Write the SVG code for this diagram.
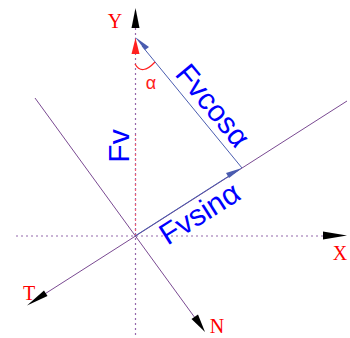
<svg xmlns="http://www.w3.org/2000/svg" width="350" height="338" viewBox="0 0 350 338">
<style>
.axis{stroke:#9468ac;stroke-width:1.2;stroke-dasharray:2,3;fill:none}
.line{stroke:#7a4a92;stroke-width:1;fill:none}
.vec{stroke:#4a5cb0;stroke-width:1;fill:none}
.lbl{font-family:"Liberation Serif",serif;font-size:20px;fill:#ff0000}
.blue{font-family:"Liberation Sans",Arial,sans-serif;font-size:30px;fill:#0000ff}
.head{fill:#000}
</style>
<rect width="350" height="338" fill="#fff"/>
<g id="connectors">
  <line class="axis" x1="16" y1="236" x2="324" y2="236"/>
  <line class="axis" x1="135.5" y1="28" x2="135.5" y2="338"/>
  <line x1="135.5" y1="236" x2="135.5" y2="135" stroke="#f06070" stroke-width="1.2" stroke-dasharray="2,3"/>
  <line class="line" x1="347" y1="101" x2="40" y2="297"/>
  <line class="line" x1="35" y1="98" x2="198" y2="322"/>
  <line class="vec" x1="135" y1="236" x2="232" y2="174"/>
  <line class="vec" x1="242" y1="168" x2="142" y2="46"/>
  <polygon class="head" points="323,231.5 347,235.5 323,239.5"/>
  <polygon class="head" points="131.5,28 135.5,8 139.5,28"/>
  <polygon class="head" points="44,290.5 27,305.5 47.5,296"/>
  <polygon class="head" points="191.5,319 205,332 198,314.5"/>
  <polygon fill="#ff2020" points="131.5,54 135.5,38 139.5,54"/>
  <polygon fill="#4a5cb0" points="135,37 149,47 145,50"/>
  <polygon fill="#4a5cb0" points="242,168 226,173 229,178"/>
  <path d="M135,64 Q142,76 155,62" stroke="#ff2020" stroke-width="1.2" fill="none"/>
</g>
<g id="Y"><text class="lbl" x="115" y="28" text-anchor="middle">Y</text></g>
<g id="X"><text class="lbl" x="340" y="260" text-anchor="middle">X</text></g>
<g id="T"><text class="lbl" x="29" y="300" text-anchor="middle">T</text></g>
<g id="N"><text class="lbl" x="217" y="333" text-anchor="middle">N</text></g>
<g id="alpha"><text x="151" y="89" text-anchor="middle" font-family="Liberation Sans,Arial,sans-serif" font-size="18" fill="#ff2020">α</text></g>
<g id="Fv"><text class="blue" transform="translate(129,146) rotate(-90)" text-anchor="middle">Fv</text></g>
<g id="Fvcos"><text class="blue" transform="translate(205,112) rotate(50.5)" text-anchor="middle">Fvcosα</text></g>
<g id="Fvsin"><text class="blue" transform="translate(205,222) rotate(-32.4)" text-anchor="middle">Fvsinα</text></g>
</svg>
